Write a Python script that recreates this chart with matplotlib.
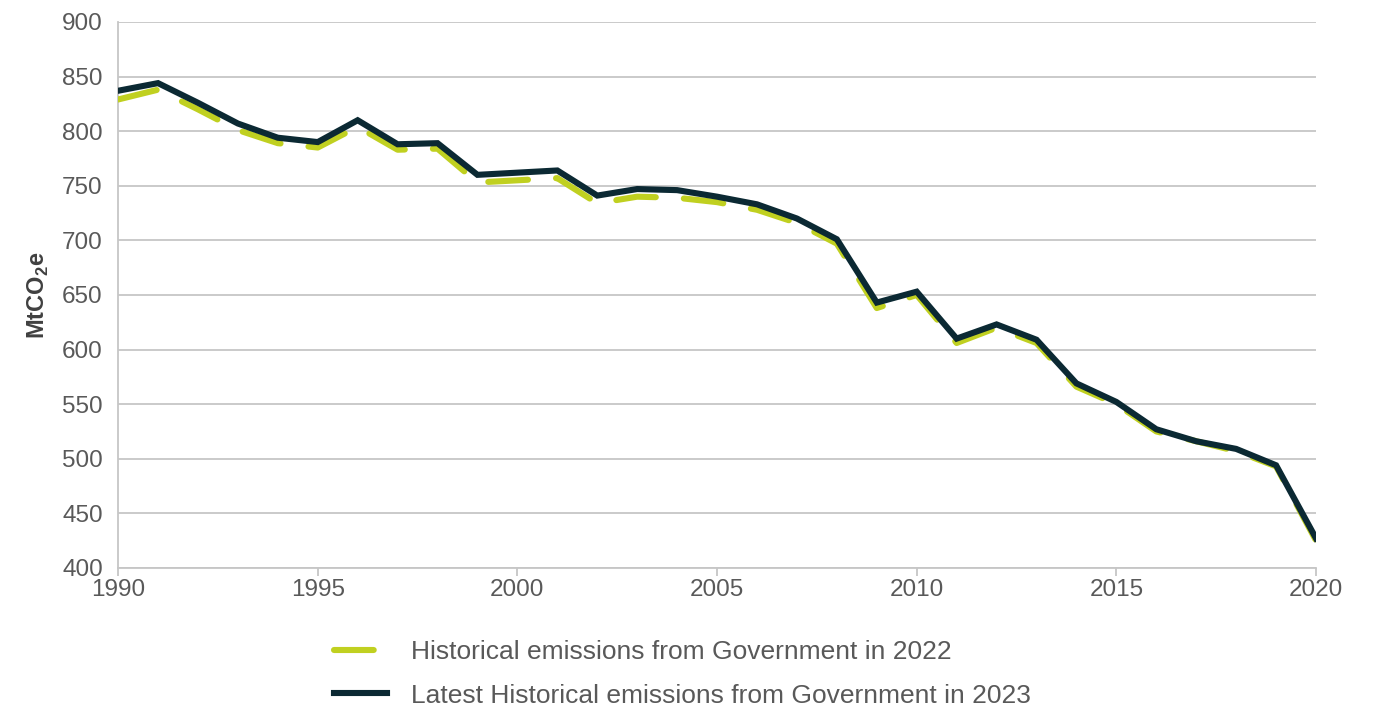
import matplotlib
matplotlib.use("Agg")
import matplotlib.pyplot as plt

plt.rcParams["font.family"] = ["Liberation Sans", "DejaVu Sans"]
plt.rcParams["mathtext.fontset"] = "custom"
plt.rcParams["mathtext.rm"] = "Liberation Sans"
plt.rcParams["mathtext.bf"] = "Liberation Sans:bold"

years = list(range(1990, 2021))

# Historical emissions from Government in 2022 (MtCO2e)
emissions_2022 = [829, 838, 820, 801, 789, 785, 804, 783, 784, 753,
                  755, 757, 734, 740, 739, 735, 728, 716, 697, 638,
                  650, 606, 620, 606, 566, 550, 525, 516, 507, 493, 425]

# Latest historical emissions from Government in 2023 (MtCO2e)
emissions_2023 = [837, 844, 826, 807, 794, 790, 810, 788, 789, 760,
                  762, 764, 741, 747, 746, 740, 733, 720, 701, 643,
                  653, 610, 623, 609, 569, 552, 527, 516, 509, 494, 427]

label_2022 = "Historical emissions from Government in 2022"
label_2023 = "Latest Historical emissions from Government in 2023"

GREEN = "#c0d020"
DARK = "#0b2933"
TEXT = "#595959"
GRID = "#c6c6c6"

fig = plt.figure(figsize=(13.73, 7.09), dpi=100)
ax = fig.add_axes([0.086, 0.199, 0.8725, 0.77])

ax.plot(years, emissions_2022, color=GREEN, linewidth=4.4,
        dashes=(6.5, 4.6), dash_capstyle="round", label=label_2022, zorder=3)
ax.plot(years, emissions_2023, color=DARK, linewidth=4.4,
        solid_joinstyle="miter", label=label_2023, zorder=4)

ax.set_xlim(1990, 2020)
ax.set_ylim(400, 900)
ax.set_xticks(range(1990, 2021, 5))
ax.set_yticks(range(400, 901, 50))
ax.grid(axis="y", color=GRID, linewidth=1.3)
ax.set_axisbelow(True)

for side in ("top", "right"):
    ax.spines[side].set_visible(False)
for side in ("left", "bottom"):
    ax.spines[side].set_color(GRID)
    ax.spines[side].set_linewidth(1.3)

ax.tick_params(axis="y", length=0, labelsize=17.5, labelcolor=TEXT, pad=11)
ax.tick_params(axis="x", length=6, width=1.3, color=GRID, labelsize=17.5,
               labelcolor=TEXT, pad=2)

ax.set_ylabel(r"MtCO$_\mathbf{2}$e", fontsize=17, fontweight="bold",
              color="#404040", labelpad=8)

fig.legend(loc="upper left", bbox_to_anchor=(0.226, 0.131),
           frameon=False, fontsize=19, handlelength=2.0,
           handletextpad=0.9, labelspacing=0.75, labelcolor=TEXT)

fig.savefig("out.png", dpi=100)
